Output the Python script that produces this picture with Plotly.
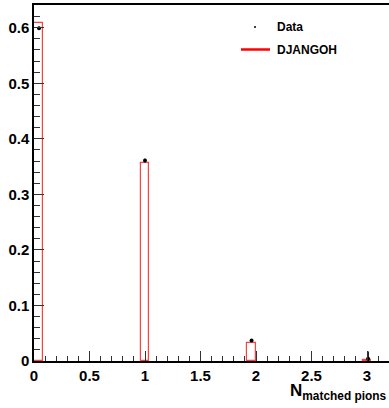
import plotly.graph_objects as go

# Data
bin_centers = [0.04, 1.0, 1.96, 3.0]
bin_width = 0.08
mc_values = [0.609, 0.356, 0.032, 0.002]
data_x = [0.045, 1.0, 1.96, 3.01]
data_values = [0.599, 0.361, 0.037, 0.004]
data_errors = [0.003, 0.003, 0.002, 0.013]
x_tick_vals = [0, 0.5, 1, 1.5, 2, 2.5, 3]
x_tick_text = ["0", "0.5", "1", "1.5", "2", "2.5", "3"]
y_tick_vals = [0, 0.1, 0.2, 0.3, 0.4, 0.5, 0.6]
y_tick_text = ["0", "0.1", "0.2", "0.3", "0.4", "0.5", "0.6"]

W, H = 389, 408
L, R, T, B = 34, 0, 5, 47
FONT = "Liberation Sans, Arial, Helvetica, sans-serif"

fig = go.Figure()
fig.add_trace(go.Bar(
    x=bin_centers, y=mc_values, width=bin_width,
    marker=dict(color="rgba(255,255,255,0)", line=dict(color="#ff4040", width=1.2)),
    name="DJANGOH", showlegend=False,
))
fig.add_trace(go.Scatter(
    x=data_x, y=data_values, mode="markers",
    marker=dict(color="black", size=4),
    error_y=dict(type="data", array=data_errors, color="black", thickness=1.5, width=0),
    name="Data", showlegend=False, cliponaxis=False,
))

fig.update_layout(
    width=W, height=H,
    margin=dict(l=L, r=R, t=T, b=B, autoexpand=False),
    paper_bgcolor="white", plot_bgcolor="white",
    font=dict(family=FONT, size=14, color="black"),
    bargap=0,
    xaxis=dict(
        range=[0, (W - L) / 111.0], showgrid=False, zeroline=False, automargin=False,
        showline=True, linecolor="black", linewidth=1.5, mirror=True,
        ticks="inside", ticklen=10, tickwidth=1, tickcolor="#333",
        tickvals=x_tick_vals, ticktext=x_tick_text,
        tickfont=dict(family=FONT, size=15, color="black", weight="bold"),
        minor=dict(ticks="inside", ticklen=5, dtick=0.1, tick0=0, tickcolor="#333", showgrid=False),
    ),
    yaxis=dict(
        range=[0, 0.641], showgrid=False, zeroline=False, automargin=False,
        showline=True, linecolor="black", linewidth=1.5, mirror=False,
        ticks="inside", ticklen=10, tickwidth=1, tickcolor="#333",
        tickvals=y_tick_vals, ticktext=y_tick_text,
        tickfont=dict(family=FONT, size=15, color="black", weight="bold"),
        minor=dict(ticks="inside", ticklen=6, dtick=0.02, tick0=0, tickcolor="#333", showgrid=False),
    ),
)

# Axis title
fig.add_annotation(
    xref="paper", yref="paper", x=1.0, y=0, yshift=-44, xshift=0,
    xanchor="right", yanchor="bottom", showarrow=False,
    text="<b>N<sub>matched pions</sub></b>",
    font=dict(family=FONT, size=17, color="black"),
)

# Legend (manual)
def px_to_paper_x(px):
    return (px - L) / (W - L - R)

def px_to_paper_y(py):
    return (H - B - py) / (H - T - B)

fig.add_shape(type="circle", xref="paper", yref="paper",
              x0=px_to_paper_x(254), x1=px_to_paper_x(256),
              y0=px_to_paper_y(28), y1=px_to_paper_y(26),
              fillcolor="black", line=dict(color="black", width=0))
fig.add_shape(type="line", xref="paper", yref="paper",
              x0=px_to_paper_x(241), x1=px_to_paper_x(270),
              y0=px_to_paper_y(49.5), y1=px_to_paper_y(49.5),
              line=dict(color="#ff0000", width=2.5))
fig.add_annotation(xref="paper", yref="paper", x=px_to_paper_x(275), y=px_to_paper_y(27),
                   xanchor="left", yanchor="middle", showarrow=False, text="<b>Data</b>",
                   font=dict(family=FONT, size=12, color="black"))
fig.add_annotation(xref="paper", yref="paper", x=px_to_paper_x(275), y=px_to_paper_y(50),
                   xanchor="left", yanchor="middle", showarrow=False, text="<b>DJANGOH</b>",
                   font=dict(family=FONT, size=12, color="black"))

fig.write_html(
    "out.html",
    config={"displayModeBar": False},
    post_script="document.body.style.margin='0';document.body.style.overflow='hidden';",
)
